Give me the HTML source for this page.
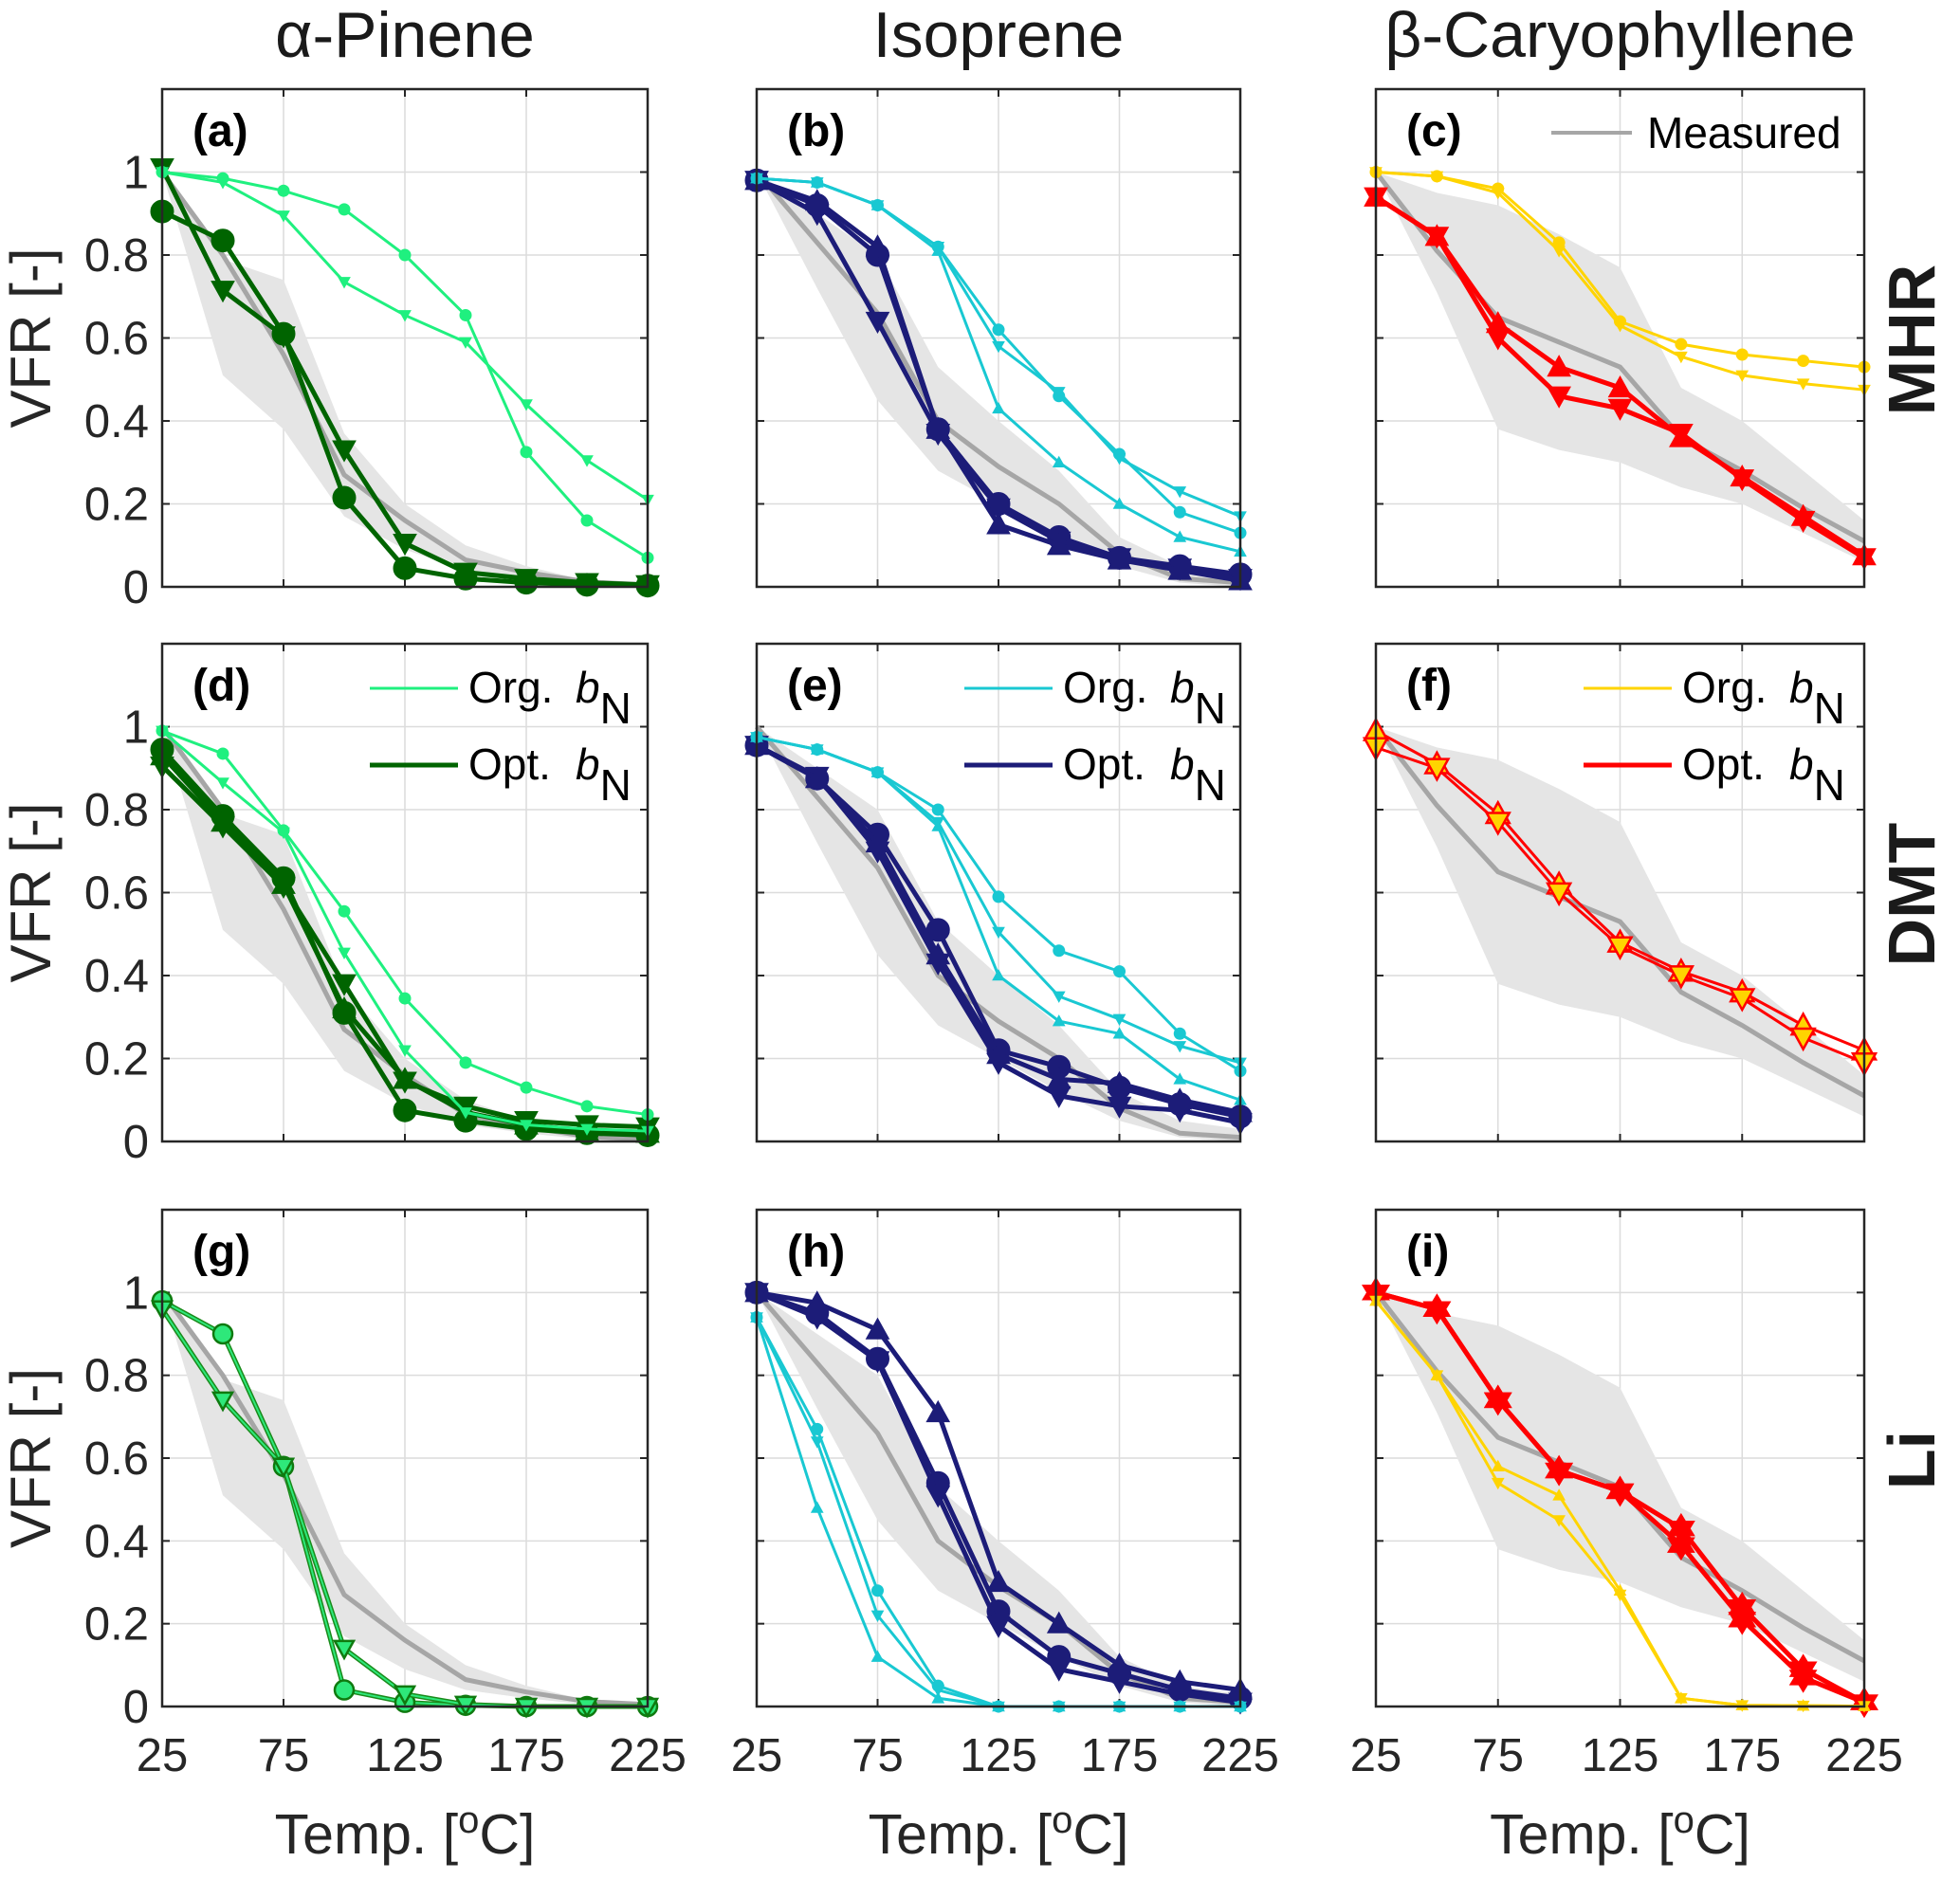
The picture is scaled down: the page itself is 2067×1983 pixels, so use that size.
<!DOCTYPE html>
<html><head><meta charset="utf-8"><style>
html,body{margin:0;padding:0;background:#fff;}
svg text{font-family:"Liberation Sans",Arial,sans-serif;}
</style></head><body>
<svg id="fig" xmlns="http://www.w3.org/2000/svg" width="2067" height="1978" viewBox="0 0 2067 1978">
<rect x="0" y="0" width="2067" height="1978" fill="#fff"/>
</svg>
<script>
const temps = [25,50,75,100,125,150,175,200,225];
const xTicks = [25,75,125,175,225];
const yTicks = [0,0.2,0.4,0.6,0.8,1];
const yTickLabels = ['0','0.2','0.4','0.6','0.8','1'];
const colTitles = ['α-Pinene','Isoprene','β-Caryophyllene'];
const rowTitles = ['MHR','DMT','Li'];
const panelLetters = ['(a)','(b)','(c)','(d)','(e)','(f)','(g)','(h)','(i)'];

const measPinene = [1,0.8,0.56,0.27,0.16,0.065,0.035,0.012,0.005];
const measPineneUp = [1,0.79,0.74,0.37,0.2,0.1,0.05,0.015,0.01];
const measPineneLo = [1,0.51,0.38,0.17,0.09,0.04,0.02,0.005,0];
const measIso = [1,0.83,0.66,0.4,0.29,0.2,0.08,0.02,0.01];
const measIsoUp = [1,0.9,0.8,0.53,0.4,0.28,0.12,0.05,0.03];
const measIsoLo = [1,0.72,0.45,0.28,0.2,0.12,0.05,0.01,0];
const measCar = [1,0.81,0.65,0.59,0.53,0.36,0.28,0.19,0.11];
const measCarUp = [1,0.95,0.92,0.85,0.77,0.48,0.4,0.28,0.16];
const measCarLo = [1,0.71,0.38,0.33,0.3,0.24,0.2,0.13,0.06];

const aOrg1 = [1,0.985,0.955,0.91,0.8,0.655,0.325,0.16,0.07];
const aOrg2 = [1,0.975,0.895,0.735,0.655,0.59,0.44,0.305,0.21];
const aOpt1 = [0.905,0.835,0.61,0.215,0.045,0.02,0.01,0.005,0.003];
const aOpt2 = [1.01,0.715,0.605,0.33,0.105,0.035,0.02,0.01,0.005];

const bOrg1 = [0.985,0.975,0.92,0.82,0.62,0.46,0.32,0.18,0.13];
const bOrg2 = [0.985,0.975,0.92,0.82,0.58,0.47,0.31,0.23,0.17];
const bOrg3 = [0.985,0.975,0.92,0.81,0.43,0.3,0.2,0.12,0.085];
const bOpt1 = [0.98,0.92,0.8,0.38,0.2,0.12,0.07,0.05,0.03];
const bOpt2 = [0.98,0.9,0.64,0.37,0.19,0.11,0.07,0.045,0.02];
const bOpt3 = [0.98,0.93,0.82,0.38,0.15,0.1,0.065,0.04,0.015];

const cOrg1 = [1,0.99,0.95,0.81,0.63,0.555,0.51,0.49,0.475];
const cOrg2 = [1,0.99,0.96,0.83,0.64,0.585,0.56,0.545,0.53];
const cOpt1 = [0.94,0.845,0.6,0.46,0.43,0.37,0.26,0.16,0.07];
const cOpt2 = [0.94,0.845,0.635,0.53,0.48,0.36,0.265,0.17,0.075];

const dOrg1 = [0.99,0.935,0.75,0.555,0.345,0.19,0.13,0.085,0.065];
const dOrg2 = [0.99,0.865,0.745,0.455,0.22,0.07,0.04,0.03,0.025];
const dOpt1 = [0.945,0.785,0.635,0.31,0.075,0.05,0.03,0.02,0.015];
const dOpt2 = [0.905,0.76,0.615,0.38,0.145,0.085,0.05,0.04,0.035];
const dOpt3 = [0.93,0.77,0.62,0.32,0.15,0.07,0.04,0.025,0.02];

const eOrg1 = [0.975,0.945,0.89,0.8,0.59,0.46,0.41,0.26,0.17];
const eOrg2 = [0.975,0.945,0.89,0.77,0.505,0.35,0.295,0.23,0.19];
const eOrg3 = [0.975,0.945,0.89,0.76,0.4,0.29,0.26,0.15,0.1];
const eOpt1 = [0.955,0.875,0.74,0.51,0.22,0.18,0.13,0.09,0.06];
const eOpt2 = [0.955,0.88,0.7,0.43,0.19,0.11,0.085,0.075,0.045];
const eOpt3 = [0.955,0.875,0.72,0.45,0.21,0.15,0.14,0.1,0.07];

const fOpt1 = [0.99,0.91,0.79,0.62,0.48,0.41,0.36,0.28,0.22];
const fOpt2 = [0.95,0.9,0.77,0.6,0.47,0.4,0.345,0.25,0.19];

const gOpt1 = [0.98,0.9,0.58,0.04,0.01,0.003,0,0,0];
const gOpt2 = [0.96,0.74,0.58,0.14,0.03,0.005,0,0,0];

const hOrg1 = [0.94,0.67,0.28,0.05,0,0,0,0,0];
const hOrg2 = [0.94,0.64,0.22,0.04,0,0,0,0,0];
const hOrg3 = [0.94,0.48,0.12,0.02,0,0,0,0,0];
const hOpt1 = [1,0.975,0.91,0.71,0.3,0.2,0.1,0.06,0.04];
const hOpt2 = [1,0.95,0.84,0.54,0.23,0.12,0.08,0.04,0.02];
const hOpt3 = [1,0.94,0.835,0.51,0.195,0.09,0.06,0.03,0.01];

const iOrg1 = [0.98,0.8,0.58,0.51,0.28,0.02,0.003,0.002,0.001];
const iOrg2 = [0.98,0.8,0.54,0.45,0.27,0.02,0.003,0.002,0.001];
const iOpt1 = [1,0.96,0.74,0.57,0.52,0.39,0.21,0.07,0.01];
const iOpt2 = [1,0.96,0.74,0.57,0.52,0.43,0.24,0.09,0.01];

const NS='http://www.w3.org/2000/svg';
const svg=document.getElementById('fig');
function mk(tag,attrs,parent){const e=document.createElementNS(NS,tag);for(const k in attrs)e.setAttribute(k,attrs[k]);(parent||svg).appendChild(e);return e;}

const colX=[[171,683],[798,1308],[1451,1966]];
const rowY=[[94,619],[679,1204],[1276,1800]];
const LG='#1ff07f',DG='#006400',CY='#19c8d2',NV='#1c1c78',YE='#ffd400',RD='#ff0000';

const panels=[
 {meas:[measPinene,measPineneUp,measPineneLo],org:[[aOrg1,'o'],[aOrg2,'v']],opt:[[aOpt1,'o'],[aOpt2,'v']],oc:LG,pc:DG},
 {meas:[measIso,measIsoUp,measIsoLo],org:[[bOrg1,'o'],[bOrg2,'v'],[bOrg3,'^']],opt:[[bOpt1,'o'],[bOpt2,'v'],[bOpt3,'^']],oc:CY,pc:NV},
 {meas:[measCar,measCarUp,measCarLo],org:[[cOrg1,'v'],[cOrg2,'o']],opt:[[cOpt1,'v'],[cOpt2,'^']],oc:YE,pc:RD},
 {meas:[measPinene,measPineneUp,measPineneLo],org:[[dOrg1,'o'],[dOrg2,'v']],opt:[[dOpt1,'o'],[dOpt2,'v'],[dOpt3,'^']],oc:LG,pc:DG},
 {meas:[measIso,measIsoUp,measIsoLo],org:[[eOrg1,'o'],[eOrg2,'v'],[eOrg3,'^']],opt:[[eOpt1,'o'],[eOpt2,'v'],[eOpt3,'^']],oc:CY,pc:NV},
 {meas:[measCar,measCarUp,measCarLo],org:[],opt:[[fOpt1,'^'],[fOpt2,'v']],oc:YE,pc:RD,fMark:true},
 {meas:[measPinene,measPineneUp,measPineneLo],org:[],opt:[[gOpt1,'o'],[gOpt2,'v']],oc:LG,pc:DG,gMark:true},
 {meas:[measIso,measIsoUp,measIsoLo],org:[[hOrg1,'o'],[hOrg2,'v'],[hOrg3,'^']],opt:[[hOpt1,'^'],[hOpt2,'o'],[hOpt3,'v']],oc:CY,pc:NV},
 {meas:[measCar,measCarUp,measCarLo],org:[[iOrg1,'^'],[iOrg2,'v']],opt:[[iOpt1,'*'],[iOpt2,'*']],oc:YE,pc:RD},
];

function marker(g,type,x,y,r,fill,stroke,sw){
  let e;
  if(type==='o'){e=mk('circle',{cx:x,cy:y,r:r,fill:fill,stroke:stroke,'stroke-width':sw},g);}
  else if(type==='v'){e=mk('polygon',{points:`${x-r},${y-r*0.8} ${x+r},${y-r*0.8} ${x},${y+r}`,fill:fill,stroke:stroke,'stroke-width':sw},g);}
  else if(type==='^'){e=mk('polygon',{points:`${x-r},${y+r*0.8} ${x+r},${y+r*0.8} ${x},${y-r}`,fill:fill,stroke:stroke,'stroke-width':sw},g);}
  else {e=mk('polygon',{points:`${x-r},${y+r*0.55} ${x+r},${y+r*0.55} ${x},${y-r*1.1}`,fill:fill,stroke:stroke,'stroke-width':sw},g);
        mk('polygon',{points:`${x-r},${y-r*0.55} ${x+r},${y-r*0.55} ${x},${y+r*1.1}`,fill:fill,stroke:stroke,'stroke-width':sw},g);}
  
  
}

panels.forEach((p,i)=>{
  const c=i%3,r=Math.floor(i/3);
  const [x0,x1]=colX[c],[y0,y1]=rowY[r];
  const sx=v=>x0+(v-25)/200*(x1-x0);
  const sy=v=>y1-v/1.2*(y1-y0);
  const g=mk('g',{});
  
  
  xTicks.forEach(t=>{mk('line',{x1:sx(t),x2:sx(t),y1:y0,y2:y1,stroke:'#dcdcdc','stroke-width':1.5},g);
    mk('line',{x1:sx(t),x2:sx(t),y1:y1,y2:y1-8,stroke:'#262626','stroke-width':2},g);
    mk('line',{x1:sx(t),x2:sx(t),y1:y0,y2:y0+8,stroke:'#262626','stroke-width':2},g);});
  yTicks.forEach(t=>{mk('line',{x1:x0,x2:x1,y1:sy(t),y2:sy(t),stroke:'#dcdcdc','stroke-width':1.5},g);
    mk('line',{x1:x0,x2:x0+8,y1:sy(t),y2:sy(t),stroke:'#262626','stroke-width':2},g);
    mk('line',{x1:x1,x2:x1-8,y1:sy(t),y2:sy(t),stroke:'#262626','stroke-width':2},g);});
  const up=p.meas[1],lo=p.meas[2];
  let pts=temps.map((t,k)=>`${sx(t)},${sy(up[k])}`).concat(temps.slice().reverse().map((t,k)=>`${sx(t)},${sy(lo[8-k])}`));
  const band=mk('polygon',{points:pts.join(' '),fill:'#e5e5e5'},g);
  
  
  const ml=mk('polyline',{points:temps.map((t,k)=>`${sx(t)},${sy(p.meas[0][k])}`).join(' '),fill:'none',stroke:'#a6a6a6','stroke-width':5},g);
  
  
  p.opt.forEach(([d,m])=>{
    const col=p.gMark?'#1a8a1a':p.pc;
    const l=mk('polyline',{points:temps.map((t,k)=>`${sx(t)},${sy(d[k])}`).join(' '),fill:'none',stroke:col,'stroke-width':p.fMark?3:5},g);
    
    
    if(p.gMark){mk('polyline',{points:temps.map((t,k)=>`${sx(t)},${sy(d[k])}`).join(' '),fill:'none',stroke:'#2ee87a','stroke-width':2},g);}
    temps.forEach((t,k)=>{
      if(p.fMark) marker(g,m,sx(t),sy(d[k]),12,YE,RD,2.5);
      else if(p.gMark) marker(g,m,sx(t),sy(d[k]),10,'#2ee87a','#0f7a0f',2.5);
      else marker(g,m,sx(t),sy(d[k]),m==='*'?14:12,p.pc,p.pc,1);
    });
  });
  p.org.forEach(([d,m])=>{
    const l=mk('polyline',{points:temps.map((t,k)=>`${sx(t)},${sy(d[k])}`).join(' '),fill:'none',stroke:p.oc,'stroke-width':3},g);
    
    
    temps.forEach((t,k)=>marker(g,m,sx(t),sy(d[k]),6,p.oc,p.oc,1));
  });
  mk('rect',{x:x0,y:y0,width:x1-x0,height:y1-y0,fill:'none',stroke:'#262626','stroke-width':2.5},g);
  const pl=mk('text',{x:x0+32,y:y0+60,'font-size':48,'font-weight':'bold',fill:'#000'},g);
  pl.textContent=panelLetters[i];
  
  
  if(c===0){
    yTicks.forEach((t,k)=>{const tx=mk('text',{x:x0-14,y:sy(t)+17,'font-size':49,'text-anchor':'end',fill:'#262626'},g);tx.textContent=yTickLabels[k];
      });
    const yl=mk('text',{x:0,y:0,'font-size':60,'text-anchor':'middle',fill:'#262626',transform:`translate(${x0-118},${sy(0.6)}) rotate(-90)`},g);
    yl.textContent='VFR [-]';
    
  }
  if(r===2){
    xTicks.forEach(t=>{const tx=mk('text',{x:sx(t),y:y1+68,'font-size':49,'text-anchor':'middle',fill:'#262626'},g);tx.textContent=String(t);
      });
    const xl=mk('text',{x:(x0+x1)/2,y:y1+155,'font-size':59,'text-anchor':'middle',fill:'#262626'},g);
    xl.innerHTML='Temp. [<tspan dy="-22" font-size="40">o</tspan><tspan dy="22">C]</tspan>';
    
  }
  if(r===0){
    const ct=mk('text',{x:(x0+x1)/2,y:60,'font-size':68,'text-anchor':'middle',fill:'#1a1a1a'},g);
    ct.textContent=colTitles[c];
    
  }
  if(c===2){
    const rt=mk('text',{x:0,y:0,'font-size':70,'font-weight':'bold','text-anchor':'middle',fill:'#1a1a1a',transform:`translate(${2040},${(y0+y1)/2+2}) rotate(-90)`},g);
    rt.textContent=rowTitles[r];
    
  }
  if(i===2){
    const lg=mk('g',{},g);
    mk('line',{x1:x0+185,x2:x0+270,y1:y0+46,y2:y0+46,stroke:'#a6a6a6','stroke-width':4},lg);
    const t=mk('text',{x:x0+286,y:y0+62,'font-size':46,fill:'#000'},lg);t.textContent='Measured';
  }
  if(r===1){
    [['Org.',p.oc,3,y0+47],['Opt.',p.pc,5,y0+128]].forEach(([lab,col,w,yy])=>{
      const lg=mk('g',{},g);
      mk('line',{x1:x0+219,x2:x0+312,y1:yy,y2:yy,stroke:col,'stroke-width':w},lg);
      const t=mk('text',{x:x0+323,y:yy+15,'font-size':46,fill:'#000'},lg);
      t.innerHTML=lab+'  <tspan x="'+(x0+436)+'" font-style="italic">b</tspan><tspan dy="22">N</tspan>';
    });
  }
});
</script>
</body></html>
